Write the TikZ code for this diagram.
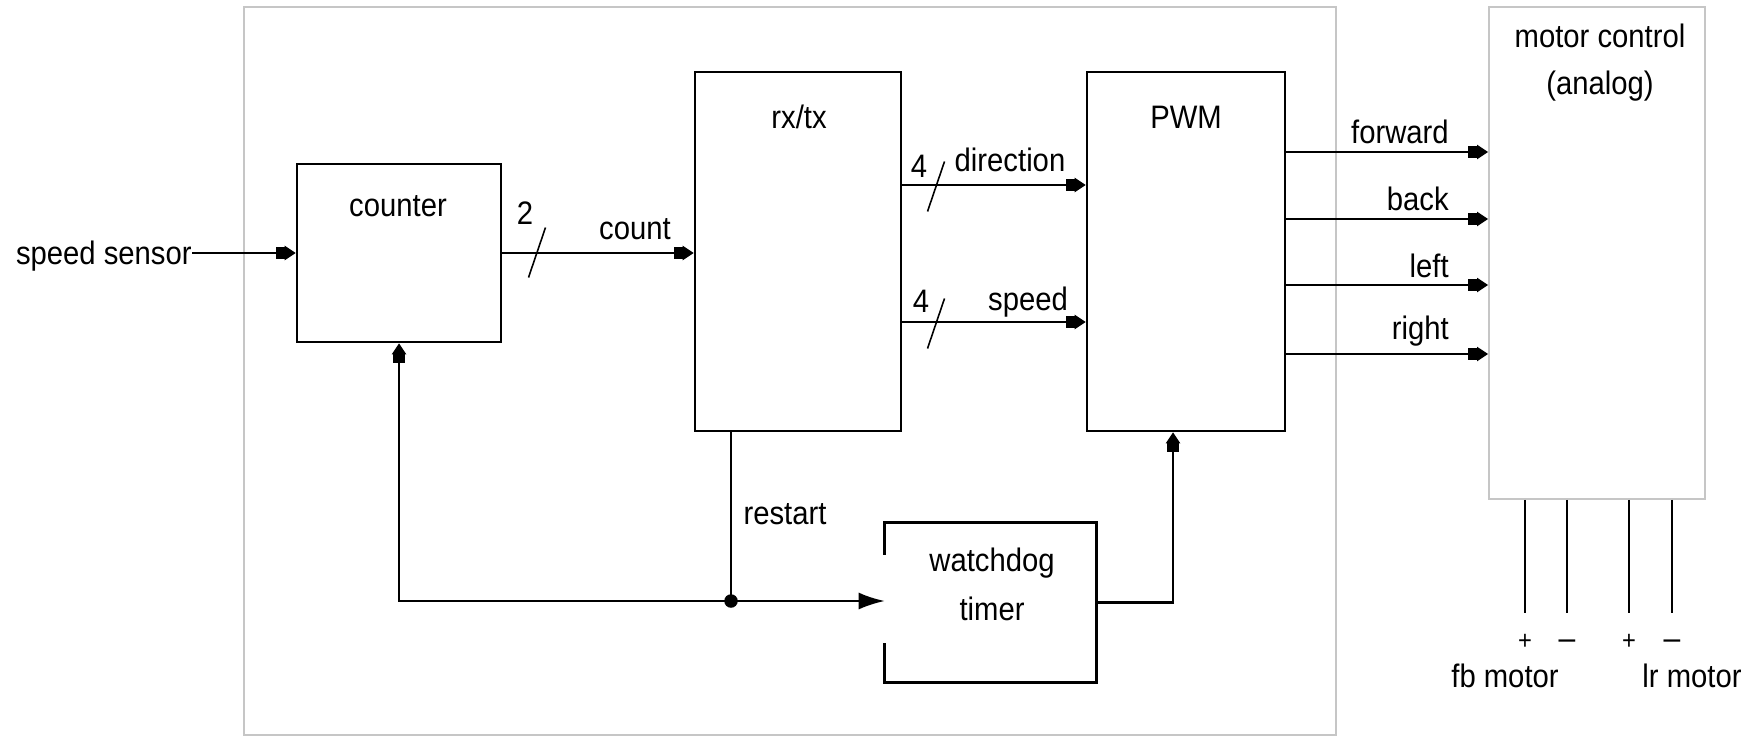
\documentclass[tikz,border=0pt]{standalone}
\usepackage{fontspec}
\setmainfont{Liberation Sans}[FakeStretch=0.9]
\usetikzlibrary{arrows.meta,calc}

\newcommand\busmark[1]{\draw[line width=0.9pt] ($(#1)+(-8,25)$) -- ++(17,-50);}
\newcommand\minussign{{\fontsize{19}{22}\selectfont\textendash}}

\begin{document}
\begin{tikzpicture}[x=0.02cm,y=-0.02cm,
    every node/.style={inner sep=0pt,font=\fontsize{18.5}{22}\selectfont},
    lbl/.style={text height=0.72em,text depth=0.21em},
    blk/.style={draw,line width=1.5pt},
    frame/.style={draw=gray!45,line width=1.1pt},
    wire/.style={line width=1.2pt},
    sig/.style={wire,-{Square[length=1.8mm,width=2.4mm,sep=0pt]Triangle[length=2.2mm,width=2.8mm,sep=0pt]}},
    bigsig/.style={wire,-{Latex[length=5.2mm,width=3.4mm]}},
    jdot/.style={circle,fill,minimum size=2.7mm},
    sgn/.style={lbl,font=\fontsize{15}{18}\selectfont}]
  \useasboundingbox (0,0) rectangle (1757,737);

  % frames
  \node[frame,minimum width=21.84cm,minimum height=14.56cm] (board) at (790,371) {};
  \node[frame,minimum width=4.32cm,minimum height=9.84cm] (motor) at (1597,253) {};
  \node[lbl] (motor-t1) at (1600,43.5) {motor control};
  \node[lbl] (motor-t2) at (1600,90.5) {(analog)};

  % blocks
  \node[blk,minimum width=4.08cm,minimum height=3.56cm] (counter) at (399,253) {};
  \node[lbl] (counter-t) at (398,212) {counter};
  \node[blk,minimum width=4.12cm,minimum height=7.18cm] (rxtx) at (798,251.5) {};
  \node[lbl] (rxtx-t) at (799,124) {rx/tx};
  \node[blk,minimum width=3.96cm,minimum height=7.18cm] (pwm) at (1186,251.5) {};
  \node[lbl] (pwm-t) at (1186,124) {PWM};
  \node[minimum width=4.22cm,minimum height=3.18cm] (wd) at (990.5,602.5) {};
  \draw[blk] ($(wd.north west)+(0,32)$) -- (wd.north west) -- (wd.north east)
    -- (wd.south east) -- (wd.south west) -- ++(0,-39);
  \node[lbl] (wd-t1) at (992,567) {watchdog};
  \node[lbl] (wd-t2) at (992,616) {timer};

  % inputs
  \node[lbl,anchor=east] (sensor) at (192,260) {speed sensor};
  \draw[sig] (sensor.east |- counter.west) -- (counter.west);
  \draw[sig] (counter.east) -- (counter.east -| rxtx.west);
  \busmark{536.5,252.5}
  \node[lbl] (n2) at (525,220) {2};
  \node[lbl] (count) at (635,235) {count};

  % rx/tx to PWM
  \coordinate (dir) at (rxtx.east |- 0,185);
  \coordinate (spd) at (rxtx.east |- 0,322);
  \draw[sig] (dir) -- (dir -| pwm.west);
  \draw[sig] (spd) -- (spd -| pwm.west);
  \busmark{935.5,186.5}
  \busmark{935.5,323.5}
  \node[lbl] (n4a) at (919,173) {4};
  \node[lbl] (n4b) at (921,308) {4};
  \node[lbl] (direction) at (1010,167) {direction};
  \node[lbl] (speed) at (1028,306.5) {speed};

  % PWM outputs
  \foreach \yy/\dy/\txt in {152/-13/forward,219/-13/back,285/-12/left,354/-18.5/right}{
    \coordinate (o-\txt) at (pwm.east |- 0,\yy);
    \draw[sig] (o-\txt) -- (o-\txt -| motor.west);
    \node[lbl,anchor=east] (l-\txt) at ($(o-\txt -| motor.west)+(-39,\dy)$) {\txt};
  }

  % motor terminals
  \foreach \xx/\sgn in {1525/+,1567/\minussign,1629/+,1672/\minussign}{
    \coordinate (t-\xx) at (\xx,613);
    \draw[wire] (t-\xx |- motor.south) -- (t-\xx);
    \node[sgn] (s-\xx) at (\xx,645) {\sgn};
  }
  \node[lbl] (fb) at (1505,683) {fb motor};
  \node[lbl] (lr) at (1692,683) {lr motor};

  % restart and watchdog
  \coordinate (j) at (731,601);
  \draw[wire] (j |- rxtx.south) -- (j);
  \node[lbl] (restart) at (785,520) {restart};
  \draw[sig] (j) -| (counter.south);
  \draw[bigsig] (j) -- (j -| wd.west);
  \node[jdot] (jd) at (j) {};
  \coordinate (pwm-in) at (pwm.south -| 1173,0);
  \draw[sig] (wd.east) -| (pwm-in);
\end{tikzpicture}
\end{document}
